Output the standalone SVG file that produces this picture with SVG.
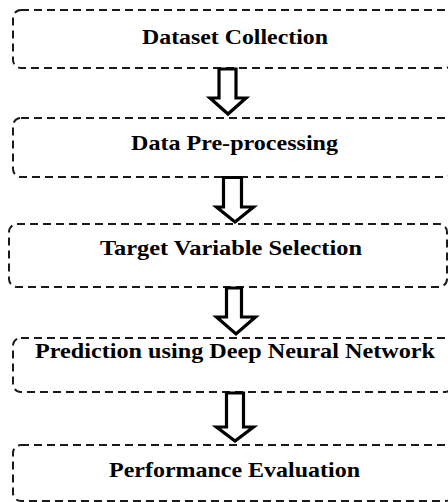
<svg xmlns="http://www.w3.org/2000/svg" width="448" height="502" viewBox="0 0 448 502">
<style>
.box{fill:#fff;stroke:#1a1a1a;stroke-width:2;stroke-dasharray:8 5}
.lbl{font-family:"Liberation Serif","Times New Roman",serif;font-weight:bold;font-size:22px;fill:#000;text-anchor:middle}
.arr{fill:#fff;stroke:#000;stroke-width:3.2;stroke-linejoin:miter}
</style>
<rect width="448" height="502" fill="#fff"/>
<g id="n1"><rect class="box" x="13" y="10" width="440" height="58" rx="8"/><text class="lbl" x="235" y="44" textLength="186" lengthAdjust="spacingAndGlyphs">Dataset Collection</text></g>
<g id="n2"><rect class="box" x="13" y="118" width="440" height="59" rx="8"/><text class="lbl" x="234.5" y="150" textLength="207" lengthAdjust="spacingAndGlyphs">Data Pre-processing</text></g>
<g id="n3"><rect class="box" x="9" y="224" width="438" height="63" rx="8"/><text class="lbl" x="231" y="255" textLength="262" lengthAdjust="spacingAndGlyphs">Target Variable Selection</text></g>
<g id="n4"><rect class="box" x="13" y="338" width="440" height="54" rx="8"/><text class="lbl" x="235" y="358" textLength="400" lengthAdjust="spacingAndGlyphs">Prediction using Deep Neural Network</text></g>
<g id="n5"><rect class="box" x="13" y="445" width="440" height="56" rx="8"/><text class="lbl" x="234.5" y="477" textLength="251" lengthAdjust="spacingAndGlyphs">Performance Evaluation</text></g>
<g id="connectors">
<polygon class="arr" points="219,69 236,69 236,98 246,98 228,114 210,98 219,98"/>
<polygon class="arr" points="223.5,177.5 241.5,177.5 241.5,207 253.5,207 235,222 216.5,207 223.5,207"/>
<polygon class="arr" points="226.5,288 241.5,288 241.5,317 255.5,317 236,334 216.5,317 226.5,317"/>
<polygon class="arr" points="226.5,393 243.5,393 243.5,427 253.5,427 235,441 216.5,427 226.5,427"/>
</g>
</svg>
